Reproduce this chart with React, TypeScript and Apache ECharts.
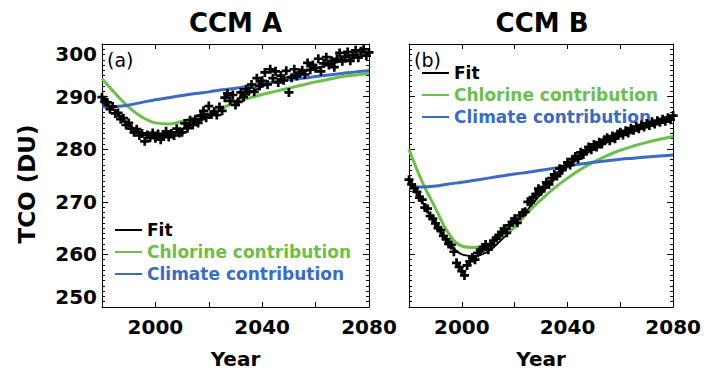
import React, { useEffect, useRef } from "react";
import * as echarts from "echarts";

// ---- data ----
const fitYears = [1980, 1985, 1990, 1995, 2000, 2005, 2010, 2015, 2020, 2025, 2030, 2035, 2040, 2045, 2050, 2055, 2060, 2065, 2070, 2075, 2080];

const fitA = [289.7, 287.2, 284.7, 283.1, 282.6, 282.9, 283.7, 284.9, 286.2, 287.7, 289.2, 290.6, 291.9, 292.9, 293.8, 294.6, 295.4, 296.1, 296.8, 297.4, 298.0];
const chlorA = [293.4, 290.6, 288.0, 286.1, 285.0, 284.8, 285.3, 286.1, 287.0, 287.9, 288.8, 289.7, 290.4, 291.0, 291.6, 292.2, 292.8, 293.3, 293.8, 294.1, 294.4];
const climA = [288.0, 288.1, 288.4, 288.9, 289.4, 289.8, 290.2, 290.6, 290.9, 291.3, 291.6, 292.0, 292.4, 292.8, 293.2, 293.5, 293.8, 294.1, 294.4, 294.7, 294.9];

const fitB = [274.5, 270.0, 265.8, 262.3, 260.0, 259.7, 260.6, 262.8, 265.3, 268.5, 271.5, 274.2, 276.6, 278.5, 280.0, 281.3, 282.4, 283.3, 284.2, 284.9, 285.6];
const chlorB = [280.0, 273.8, 268.8, 264.0, 261.6, 261.3, 262.0, 263.4, 265.2, 268.0, 270.4, 272.6, 274.5, 276.2, 277.6, 278.8, 279.8, 280.6, 281.3, 281.9, 282.4];
const climB = [272.8, 272.8, 273.0, 273.4, 273.7, 274.1, 274.5, 274.9, 275.3, 275.6, 276.0, 276.4, 276.8, 277.2, 277.5, 277.8, 278.1, 278.3, 278.5, 278.7, 278.9];

// yearly model values (1980..2080), shown as crosses
const obsA = [
  289.9, 289.0, 288.9, 287.6, 288.1, 286.8, 286.9, 285.7, 285.9, 284.6,
  285.0, 283.9, 283.2, 283.8, 282.6, 283.0, 281.5, 282.7, 282.2, 283.1,
  282.1, 282.9, 281.8, 282.5, 283.4, 282.3, 283.0, 282.6, 283.9, 283.1,
  283.2, 284.9, 284.0, 285.5, 284.6, 285.7, 285.0, 286.4, 287.3, 286.0,
  288.2, 286.6, 287.1, 286.5, 288.0, 287.3, 289.8, 290.6, 289.2, 290.3,
  288.4, 289.0, 290.8, 289.9, 291.4, 291.0, 292.3, 290.9, 293.5, 292.0,
  293.0, 294.6, 292.3, 295.2, 293.5, 294.8, 292.7, 294.0, 293.1, 294.9,
  290.8, 293.6, 295.2, 293.9, 294.5, 295.0, 294.2, 296.4, 295.1, 296.0,
  295.4, 297.2, 294.8, 296.3, 297.5, 296.0, 296.8, 295.6, 297.2, 298.3,
  296.7, 297.6, 298.5, 296.8, 297.9, 298.8, 297.4, 298.6, 299.0, 297.8,
  298.4,
];
const obsB = [
  274.2, 273.3, 272.6, 271.9, 270.8, 270.4, 268.9, 268.7, 267.3, 266.8,
  265.9, 265.0, 264.6, 263.5, 262.9, 262.0, 261.8, 260.5, 258.4, 257.6,
  256.8, 256.0, 257.9, 258.7, 259.4, 259.0, 260.3, 260.8, 261.2, 261.9,
  260.9, 261.8, 262.6, 263.1, 263.6, 264.3, 264.9, 264.1, 265.5, 266.2,
  266.8, 266.0, 267.4, 267.9, 268.1, 270.0, 269.9, 270.9, 271.4, 272.5,
  272.0, 272.8, 273.7, 273.3, 274.5, 275.2, 274.9, 276.3, 276.0, 276.8,
  277.5, 277.0, 278.1, 278.6, 278.2, 279.4, 279.0, 279.8, 280.4, 279.9,
  280.9, 280.4, 281.3, 281.0, 281.8, 282.2, 281.6, 282.5, 282.0, 282.9,
  283.2, 282.7, 283.5, 283.1, 284.0, 283.6, 284.3, 283.9, 284.6, 284.2,
  284.9, 284.5, 285.2, 284.8, 285.4, 285.1, 285.7, 285.3, 286.0, 285.6,
  286.4,
];
const obsYears = obsA.map((_, i) => 1980 + i);

const xLabelYears = [2000, 2040, 2080];
const panelTitles = ["CCM A", "CCM B"];
const panelTags = ["(a)", "(b)"];
const seriesNames = ["Fit", "Chlorine contribution", "Climate contribution"];

const BLACK = "#000000";
const GREEN = "#6cc04a";
const BLUE = "#3b6cc4";
const FONT = "DejaVu Sans";
const CROSS = "path://M3.5,0H6.5V3.5H10V6.5H6.5V10H3.5V6.5H0V3.5H3.5Z";

const zip = (xs: number[], ys: number[]) => xs.map((x, i) => [x, ys[i]]);

function xAxisFor(grid: number, top: boolean) {
  return {
    type: "value",
    gridIndex: grid,
    position: top ? "top" : "bottom",
    min: 1980,
    max: 2080,
    interval: 20,
    axisLine: { show: true, onZero: false, lineStyle: { color: "#000", width: 1 } },
    axisTick: { show: true, inside: true, length: 5, lineStyle: { color: "#000" } },
    splitLine: { show: false },
    axisLabel: top
      ? { show: false }
      : {
          show: true,
          margin: 10,
          color: "#000",
          fontFamily: FONT,
          fontWeight: "bold",
          fontSize: 20,
          formatter: (v: number) => (xLabelYears.includes(v) ? String(v) : ""),
        },
    name: top ? "" : "Year",
    nameLocation: "middle",
    nameGap: 42,
    nameTextStyle: { color: "#000", fontFamily: FONT, fontWeight: "bold", fontSize: 20 },
  };
}

function yAxisFor(grid: number, right: boolean, labels: boolean) {
  return {
    type: "value",
    gridIndex: grid,
    position: right ? "right" : "left",
    min: 250,
    max: 300,
    interval: 10,
    axisLine: { show: true, onZero: false, lineStyle: { color: "#000", width: 1 } },
    axisTick: { show: true, inside: true, length: 6, lineStyle: { color: "#000" } },
    minorTick: { show: true, splitNumber: 10, length: 3, lineStyle: { color: "#000" } },
    splitLine: { show: false },
    axisLabel: labels
      ? {
          show: true,
          margin: 5,
          color: "#000",
          fontFamily: FONT,
          fontWeight: "bold",
          fontSize: 20,
          verticalAlignMinLabel: "bottom",
          verticalAlignMaxLabel: "top",
        }
      : { show: false },
  };
}

function lineSeries(name: string, idx: number, years: number[], vals: number[], color: string, width: number, z: number) {
  return {
    type: "line",
    name,
    xAxisIndex: idx * 2,
    yAxisIndex: idx * 2,
    data: zip(years, vals),
    smooth: 0.4,
    showSymbol: false,
    symbol: "none",
    lineStyle: { color, width },
    itemStyle: { color },
    z,
  };
}

function legendFor(left: number, top: number) {
  const colors = [BLACK, GREEN, BLUE];
  return {
    left,
    top,
    orient: "vertical",
    padding: 0,
    itemWidth: 27,
    itemHeight: 2,
    itemGap: 4,
    icon: "rect",
    selectedMode: false,
    data: seriesNames.map((n, i) => ({ name: n, textStyle: { color: colors[i] } })),
    textStyle: { fontFamily: FONT, fontWeight: "bold", fontSize: 17, lineHeight: 18 },
  };
}

export default function App() {
  const ref = useRef<HTMLDivElement>(null);
  useEffect(() => {
    if (!ref.current) return;
    const chart = echarts.init(ref.current, null, { renderer: "svg" });
    const panels = [
      { fit: fitA, chl: chlorA, cli: climA, obs: obsA },
      { fit: fitB, chl: chlorB, cli: climB, obs: obsB },
    ];
    const series: any[] = [];
    panels.forEach((p, i) => {
      series.push(lineSeries(seriesNames[0], i, fitYears, p.fit, BLACK, 2, 2));
      series.push(lineSeries(seriesNames[1], i, fitYears, p.chl, GREEN, 3, 3));
      series.push(lineSeries(seriesNames[2], i, fitYears, p.cli, BLUE, 3, 3));
      series.push({
        type: "scatter",
        name: "model",
        xAxisIndex: i * 2,
        yAxisIndex: i * 2,
        data: zip(obsYears, p.obs),
        symbol: CROSS,
        symbolSize: 9,
        itemStyle: { color: BLACK, opacity: 1 },
        z: 4,
      });
    });
    chart.setOption({
      animation: false,
      backgroundColor: "#fff",
      grid: [
        { left: 102, top: 44, width: 267, height: 268 },
        { left: 409, top: 44, width: 266, height: 268 },
      ],
      xAxis: [xAxisFor(0, false), xAxisFor(0, true), xAxisFor(1, false), xAxisFor(1, true)],
      yAxis: [yAxisFor(0, false, true), yAxisFor(0, true, false), yAxisFor(1, false, false), yAxisFor(1, true, false)],
      legend: [legendFor(115, 221), legendFor(422, 64)],
      series,
      graphic: [
        { type: "text", x: 235.5, y: 23, style: { text: panelTitles[0], fill: "#000", font: `bold 26px '${FONT}'`, textAlign: "center", textVerticalAlign: "middle" } },
        { type: "text", x: 542, y: 23, style: { text: panelTitles[1], fill: "#000", font: `bold 26px '${FONT}'`, textAlign: "center", textVerticalAlign: "middle" } },
        { type: "text", x: 107, y: 60, style: { text: panelTags[0], fill: "#000", font: `19px '${FONT}'`, textAlign: "left", textVerticalAlign: "middle" } },
        { type: "text", x: 414, y: 60, style: { text: panelTags[1], fill: "#000", font: `19px '${FONT}'`, textAlign: "left", textVerticalAlign: "middle" } },
        { type: "text", x: 27, y: 184, rotation: Math.PI / 2, style: { text: "TCO (DU)", fill: "#000", font: `bold 23px '${FONT}'`, textAlign: "center", textVerticalAlign: "middle" } },
      ],
    });
    return () => chart.dispose();
  }, []);
  return <div ref={ref} style={{ position: "absolute", left: 0, top: 0, width: 704, height: 374 }} />;
}
